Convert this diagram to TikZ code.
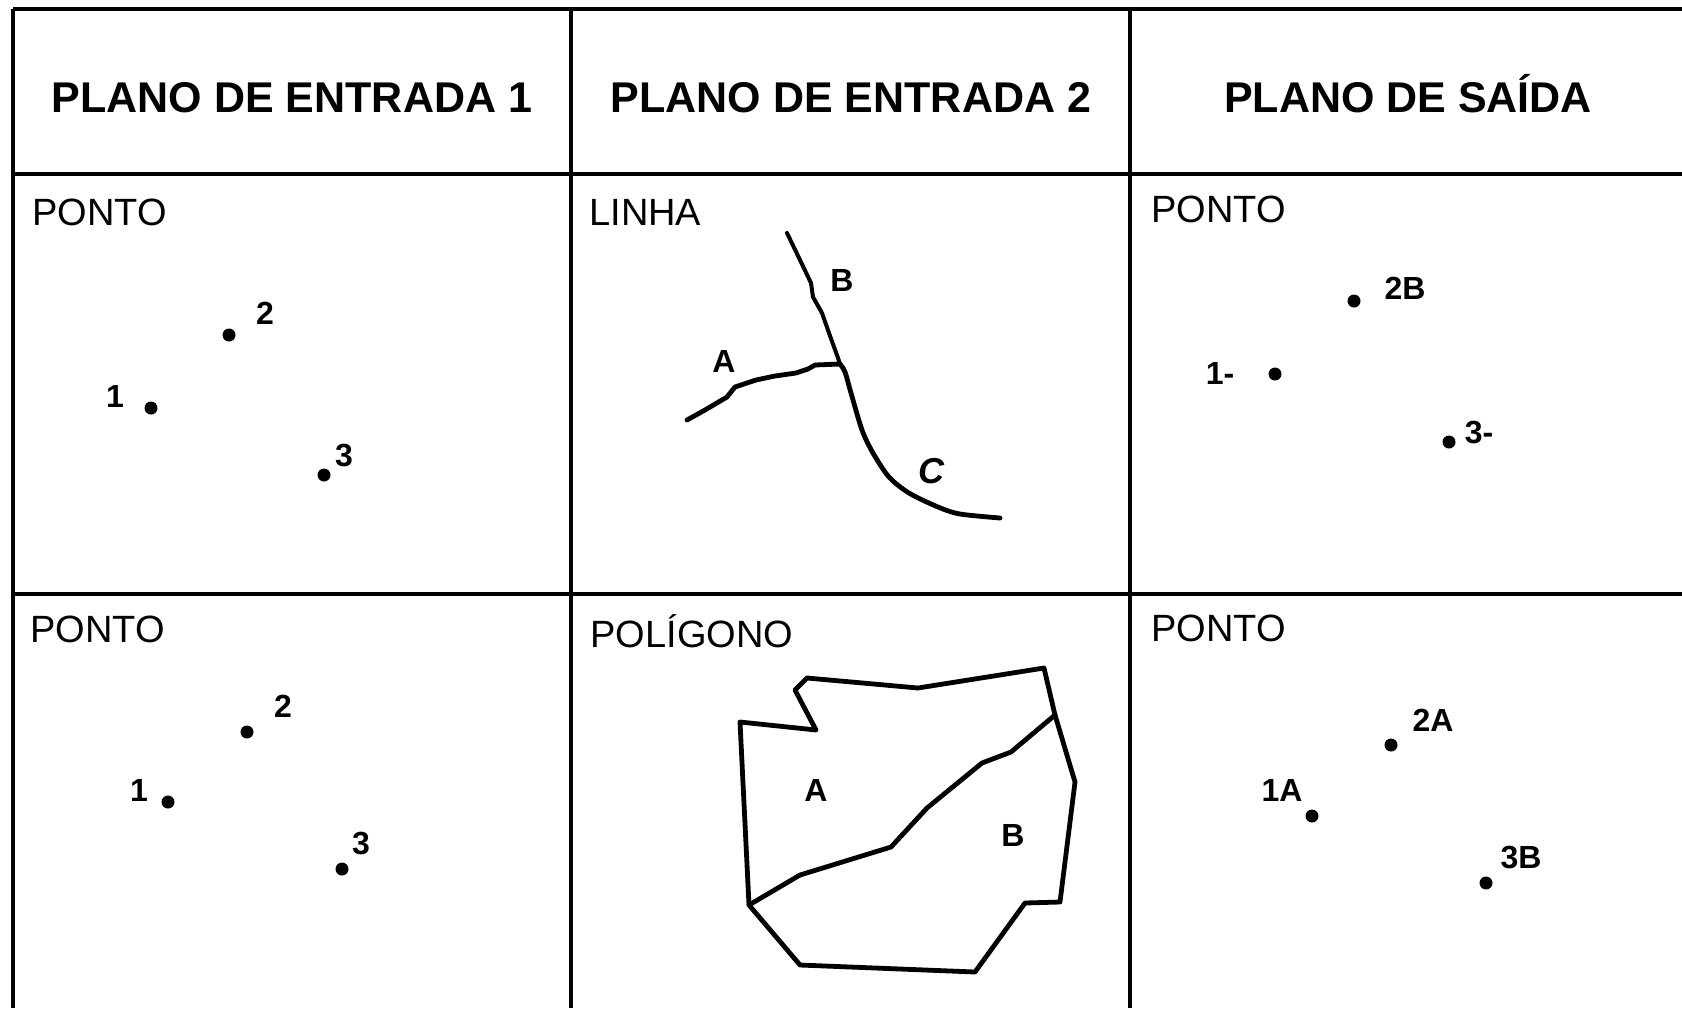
\documentclass[tikz,border=0pt]{standalone}
\usepackage{fontspec}
\setmainfont{Liberation Sans}
\begin{document}
\begin{tikzpicture}[x=0.5pt,y=-0.5pt,
  gridline/.style={line width=2pt},
  head/.style={font=\fontsize{21.5}{24}\selectfont\bfseries, anchor=base, inner sep=0pt},
  kind/.style={font=\fontsize{19}{22}\selectfont, anchor=base west, inner sep=0pt},
  dot/.style={circle, fill=black, draw=none, inner sep=0pt, minimum size=6.5pt},
  lab/.style={font=\fontsize{16}{18}\selectfont\bfseries, inner sep=0pt},
  hand/.style={font=\fontsize{16}{18}\selectfont\bfseries, inner sep=0pt},
  stroke/.style={line width=2.4pt, line join=round, line cap=round}]
\useasboundingbox (0,0) rectangle (1682,1008);
% grid
\coordinate (gTL) at (13,9);
\coordinate (gTR) at (1682,9);
\coordinate (gHL) at (13,174);
\coordinate (gHR) at (1682,174);
\coordinate (gML) at (13,594);
\coordinate (gMR) at (1682,594);
\coordinate (gBL) at (13,1008);
\coordinate (c1T) at (571,9);
\coordinate (c1B) at (571,1008);
\coordinate (c2T) at (1130,9);
\coordinate (c2B) at (1130,1008);
\draw[gridline] (gTL) -- (gTR);
\draw[gridline] (gHL) -- (gHR);
\draw[gridline] (gML) -- (gMR);
\draw[gridline] (gTL) -- (gBL);
\draw[gridline] (c1T) -- (c1B);
\draw[gridline] (c2T) -- (c2B);
% headers
\node[head] (h1) at (292,112) {PLANO DE ENTRADA 1};
\node[head] (h2) at (851,112) {PLANO DE ENTRADA 2};
\node[head] (h3) at (1408,112) {PLANO DE SAÍDA};
% cell titles
\node[kind] (k11) at (32,225) {PONTO};
\node[kind] (k12) at (589,225) {LINHA};
\node[kind] (k13) at (1151,222) {PONTO};
\node[kind] (k21) at (30,642) {PONTO};
\node[kind] (k22) at (590,647) {POLÍGONO};
\node[kind] (k23) at (1151,641) {PONTO};
% row 1 col 1 points
\node[dot] (p11a) at (151,408) {};
\node[dot] (p11b) at (229,335) {};
\node[dot] (p11c) at (324,475) {};
\node[lab] (l11a) at (115,396) {1};
\node[lab] (l11b) at (265,313) {2};
\node[lab] (l11c) at (344,455) {3};
% row 2 col 1 points
\node[dot] (p21a) at (168,802) {};
\node[dot] (p21b) at (247,732) {};
\node[dot] (p21c) at (342,869) {};
\node[lab] (l21a) at (139,790) {1};
\node[lab] (l21b) at (283,706) {2};
\node[lab] (l21c) at (361,843) {3};
% row 1 col 3 points
\node[dot] (p13a) at (1275,374) {};
\node[dot] (p13b) at (1354,301) {};
\node[dot] (p13c) at (1449,442) {};
\node[lab] (l13a) at (1220,373) {1-};
\node[lab] (l13b) at (1405,288) {2B};
\node[lab] (l13c) at (1479,432) {3-};
% row 2 col 3 points
\node[dot] (p23a) at (1312,816) {};
\node[dot] (p23b) at (1391,745) {};
\node[dot] (p23c) at (1486,883) {};
\node[lab] (l23a) at (1282,790) {1A};
\node[lab] (l23b) at (1433,720) {2A};
\node[lab] (l23c) at (1521,857) {3B};
% lines cell
\coordinate (jn) at (840,364);
\coordinate (bTop) at (787,233);
\coordinate (cEnd) at (1000,518);
\coordinate (aEnd) at (687,420);
\draw[stroke, line width=2pt] (bTop) -- (800,260) -- (811,283) -- (813,297) -- (822,313) -- (829,333) -- (838,358) -- (jn);
\draw[stroke] plot[smooth, tension=0.5] coordinates {(jn) (845,372) (851,393) (862,430) (873,453) (889,477) (909,493) (938,507) (960,514) (cEnd)};
\draw[stroke] (aEnd) -- (705,410) -- (727,397) -- (735,387) -- (756,380) -- (775,376) -- (796,373) -- (808,369) -- (815,365) -- (jn);
\node[hand] (lA) at (724,361) {A};
\node[hand] (lB) at (842,280) {B};
\node[hand, font=\fontsize{18}{20}\selectfont\bfseries\itshape] (lC) at (931,471) {C};
% polygon cell
\coordinate (q1) at (807,678);
\coordinate (q2) at (918,688);
\coordinate (q3) at (1044,668);
\coordinate (q4) at (1055,715);
\coordinate (q5) at (1075,782);
\coordinate (q6) at (1060,902);
\coordinate (q7) at (1025,903);
\coordinate (q8) at (975,972);
\coordinate (q9) at (800,965);
\coordinate (q10) at (749,905);
\coordinate (q11) at (740,722);
\coordinate (q12) at (816,730);
\coordinate (q13) at (795,690);
\draw[stroke] (q1) -- (q2) -- (q3) -- (q4) -- (q5) -- (q6) -- (q7) -- (q8) -- (q9) -- (q10) -- (q11) -- (q12) -- (q13) -- cycle;
\draw[stroke] (q10) -- (800,875) -- (891,847) -- (927,808) -- (982,763) -- (1011,752) -- (q4);
\node[hand] (pA) at (816,790) {A};
\node[hand] (pB) at (1013,835) {B};
\end{tikzpicture}
\end{document}
